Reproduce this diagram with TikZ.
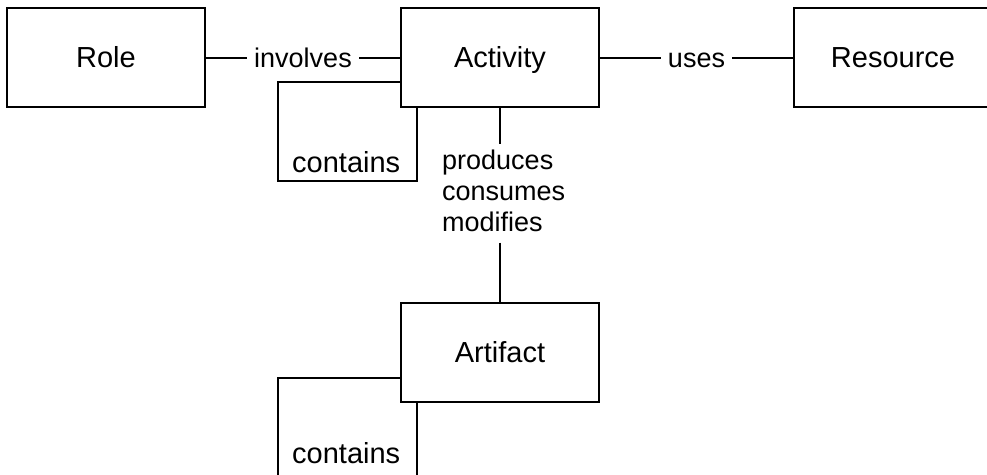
\documentclass[tikz,border=0pt]{standalone}
\usepackage{fontspec}
\setmainfont{Liberation Sans}
\begin{document}
\begin{tikzpicture}[x=1pt,y=-1pt,
  entity/.style={draw, line width=2.7pt, minimum width=198pt, minimum height=99pt,
    inner sep=0pt, text height=20.6pt, text depth=0pt,
    font=\fontsize{29}{35}\selectfont},
  link/.style={line width=2pt},
  linklabel/.style={fill=white, inner xsep=7pt, inner ysep=2pt,
    text height=19.6pt, text depth=0pt, font=\fontsize{27}{31}\selectfont},
  looplabel/.style={inner sep=0pt, anchor=base west, font=\fontsize{29}{35}\selectfont},
  stacklabel/.style={align=left, inner sep=0pt, anchor=north west,
    font=\fontsize{27}{31}\selectfont}]
\path[use as bounding box, clip] (0,0) rectangle (987,474);
\fill[white] (0,0) rectangle (987,474);

% entities
\node[entity] (role)     at (106,57.5)  {Role};
\node[entity] (activity) at (500,57.5)  {Activity};
\node[entity] (resource) at (893,57.5)  {Resource};
\node[entity] (artifact) at (500,352.5) {Artifact};

% associations
\draw[link] (role) -- node[linklabel] {involves} (activity);
\draw[link] (activity) -- node[linklabel] {uses} (resource);

\node[stacklabel] (pcm) at (442,149.5) {produces\\consumes\\modifies};
\draw[link, shorten >=5.5pt] (activity.south) -- (activity.south |- pcm.north);
\draw[link, shorten <=11pt] (artifact.north |- pcm.south) -- (artifact.north);

% containment loops
\draw[link] ([yshift=-24.5pt]activity.west) -- ++(-122,0) -- ++(0,99)
  -| ([xshift=17pt]activity.south west);
\node[looplabel] (actcontains) at (292,172) {contains};

\draw[link] ([yshift=-25.5pt]artifact.west) -- ++(-122,0) -- ++(0,99)
  -| ([xshift=17pt]artifact.south west);
\node[looplabel] (artcontains) at (292,463) {contains};
\end{tikzpicture}
\end{document}
